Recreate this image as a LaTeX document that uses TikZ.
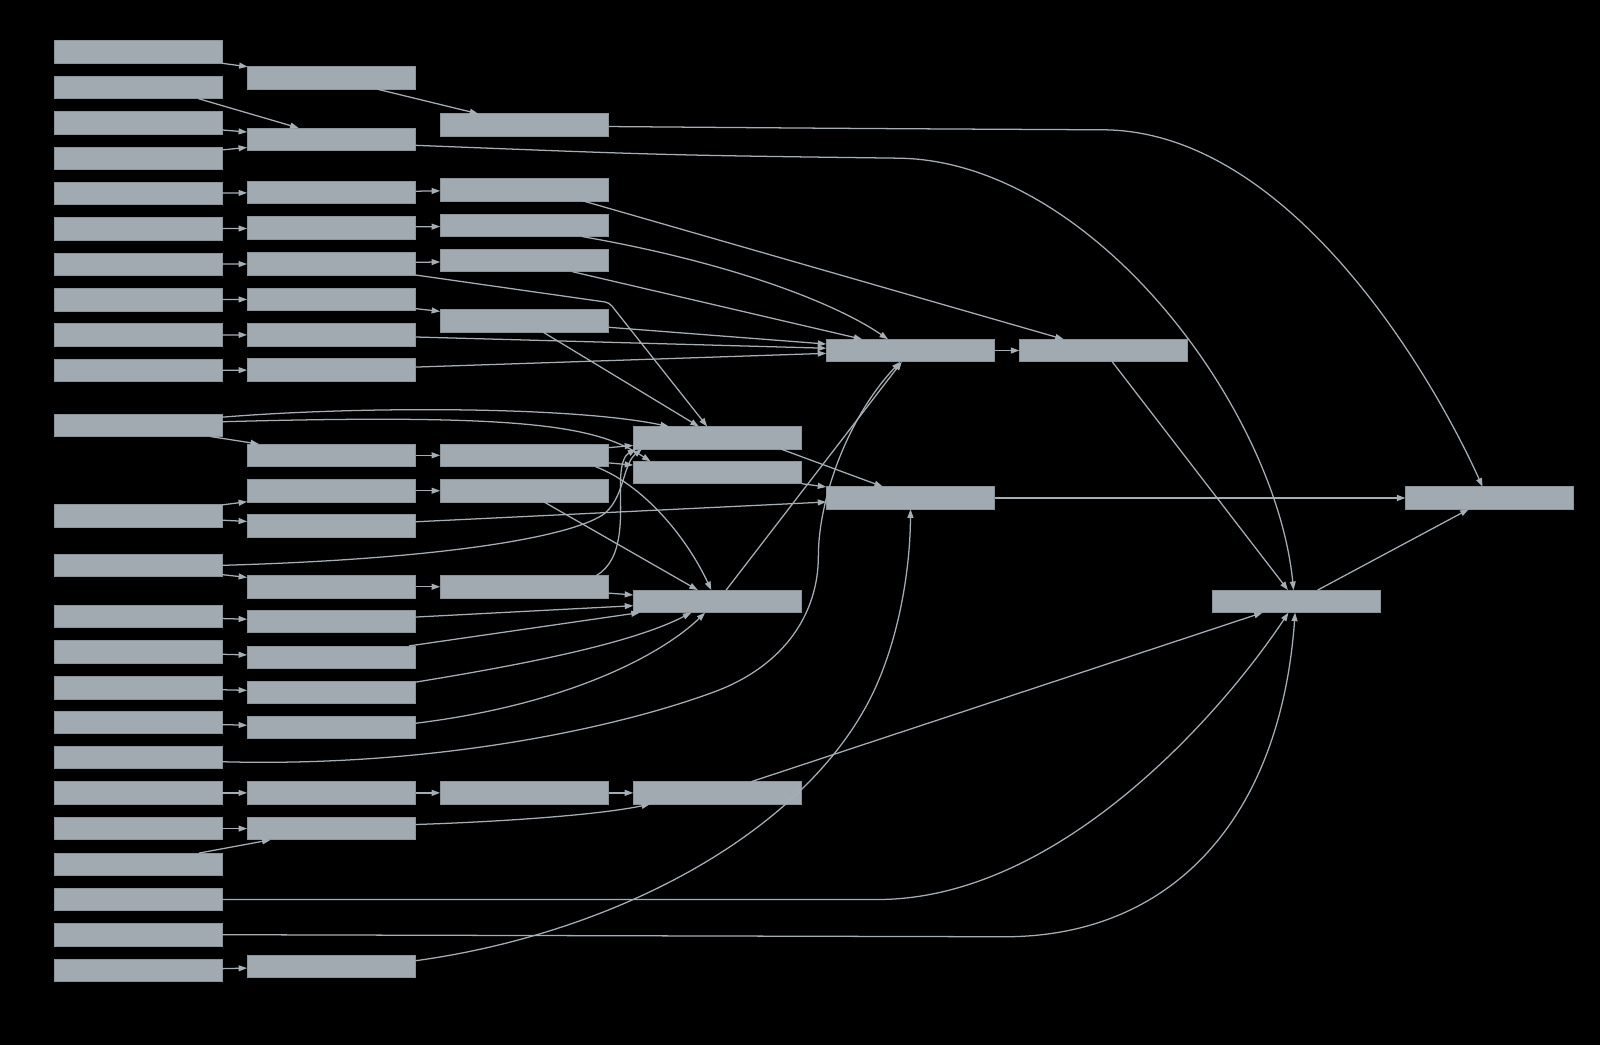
\documentclass[tikz,border=0pt]{standalone}
\usetikzlibrary{arrows.meta,calc}
\definecolor{boxc}{RGB}{161,170,176}
\definecolor{boxb}{RGB}{138,148,154}
\definecolor{linec}{RGB}{165,174,180}
\newcommand\mkbox[3]{\node[box] (#1) at (#2,#3) {};}
\begin{document}
\begin{tikzpicture}[x=0.5pt,y=-0.5pt,
  box/.style={rectangle,fill=boxc,draw=boxb,line width=0.4pt,minimum width=82.5pt,minimum height=11pt,inner sep=0pt,outer sep=0pt},
  edge/.style={draw=linec,line width=0.62pt,-{Triangle[length=4.2pt,width=2.9pt]}}]
\fill[black] (0,0) rectangle (1568,1024.1);
\useasboundingbox (0,0) rectangle (1568,1024.1);
% column 0
\mkbox{a0}{135.5}{51}
\mkbox{a1}{135.5}{85.7}
\mkbox{a2}{135.5}{120.4}
\mkbox{a3}{135.5}{155}
\mkbox{a4}{135.5}{189.7}
\mkbox{a5}{135.5}{224.4}
\mkbox{a6}{135.5}{259}
\mkbox{a7}{135.5}{293.7}
\mkbox{a8}{135.5}{328.4}
\mkbox{a9}{135.5}{363}
\mkbox{a10}{135.5}{416.8}
\mkbox{a11}{135.5}{505.5}
\mkbox{a12}{135.5}{554}
\mkbox{a13}{135.5}{604}
\mkbox{a14}{135.5}{639}
\mkbox{a15}{135.5}{674}
\mkbox{a16}{135.5}{708}
\mkbox{a17}{135.5}{742.5}
\mkbox{a18}{135.5}{777}
\mkbox{a19}{135.5}{812}
\mkbox{a20}{135.5}{847}
\mkbox{a21}{135.5}{881.5}
\mkbox{a22}{135.5}{916}
\mkbox{a23}{135.5}{951}
% column 1
\mkbox{b0}{324.7}{76.4}
\mkbox{b1}{324.7}{136.4}
\mkbox{b2}{324.7}{188.5}
\mkbox{b3}{324.7}{223.5}
\mkbox{b4}{324.7}{258.5}
\mkbox{b5}{324.7}{293.2}
\mkbox{b6}{324.7}{328}
\mkbox{b7}{324.7}{362.5}
\mkbox{b8}{324.7}{446.2}
\mkbox{b9}{324.7}{480.9}
\mkbox{b10}{324.7}{515.3}
\mkbox{b11}{324.7}{575}
\mkbox{b12}{324.7}{609}
\mkbox{b13}{324.7}{644}
\mkbox{b14}{324.7}{678.5}
\mkbox{b15}{324.7}{712.8}
\mkbox{b16}{324.7}{777}
\mkbox{b17}{324.7}{812}
\mkbox{b18}{324.7}{947}
% column 2
\mkbox{c0}{513.9}{122.5}
\mkbox{c1}{513.9}{185.9}
\mkbox{c2}{513.9}{220.8}
\mkbox{c3}{513.9}{255.3}
\mkbox{c4}{513.9}{314.4}
\mkbox{c5}{513.9}{446.2}
\mkbox{c6}{513.9}{480.9}
\mkbox{c7}{513.9}{575}
\mkbox{c8}{513.9}{777}
% column 3
\mkbox{d0}{703.1}{429}
\mkbox{d1}{703.1}{463.2}
\mkbox{d2}{703.1}{589.3}
\mkbox{d3}{703.1}{777}
% columns 4-7
\mkbox{e0}{892.3}{343.5}
\mkbox{e1}{892.3}{488}
\mkbox{f0}{1081.5}{343.5}
\mkbox{g0}{1270.7}{589.3}
\mkbox{h0}{1459.9}{488}
% straight connectors
\foreach \s/\t in {a0/b0,a2/b1,a3/b1,a4/b2,a5/b3,a6/b4,a7/b5,a8/b6,a9/b7,
  a10/b8,a11/b9,a11/b10,a12/b11,a13/b12,a14/b13,a15/b14,a16/b15,a18/b16,
  a19/b17,a20/b17,a23/b18,
  b0/c0,b2/c1,b3/c2,b4/c3,b5/c4,b6/e0,b7/e0,b8/c5,b9/c6,b10/e1,b11/c7,
  b12/d2,b13/d2,b16/c8,
  c3/e0,c4/e0,c4/d0,c5/d0,c5/d1,c6/d2,c7/d2,c8/d3,
  d1/e1,d2/e0,d3/g0,
  e0/f0,e1/h0,f0/g0,g0/h0}
  \draw[edge] (\s) -- (\t);
\draw[edge] ($(a1.south)+(59,0)$) -- ($(b1.north)+(-32,0)$);
\draw[edge] ($(c1.south east)+(-25,0)$) -- ($(f0.north)+(-39,0)$);
\draw[edge] ($(d0.south)+(62,0)$) -- ($(e1.north)+(-27,0)$);
% curved connectors
\draw[edge] ($(c2.south east)+(-26,0)$) .. controls (720,258) and (820,298) .. ($(e0.north)+(-22,0)$);
\draw[edge,rounded corners=2pt] (b4.south east) -- (597,296.5) -- ($(d0.north)+(-10,0)$);
\draw[edge] ($(a10.east)+(0,-8)$) .. controls (350,398) and (560,398) .. ($(d0.north west)+(35,0)$);
\draw[edge] ($(a10.east)+(0,-3.5)$) .. controls (520,405) and (585,418) .. ($(d1.north west)+(17,0)$);
\draw[edge] (a12.east) .. controls (430,548) and (555,527) .. (590,505) .. controls (612,490) and (610,455) .. ($(d0.south west)+(8.5,0)$);
\draw[edge] ($(c7.north east)+(-12,0)$) .. controls (612,548) and (608,505) .. (608,477) .. controls (608,456) and (611,447) .. ($(d0.south west)+(3,0)$);
\draw[edge] ($(c5.south east)+(-13,0)$) .. controls (630,475) and (672,525) .. ($(d2.north)+(-6,0)$);
\draw[edge] ($(c0.east)+(0,1.5)$) .. controls (850,126) .. (1080,127.2) .. controls (1260,127.2) and (1400,360) .. ($(h0.north)+(-7,0)$);
\draw[edge] ($(b1.east)+(0,6)$) .. controls (650,152) .. (880,155) .. controls (1070,157) and (1250,400) .. ($(g0.north)+(-3,0)$);
\draw[edge] ($(a17.east)+(0,4)$) .. controls (420,752) and (600,715) .. (700,678) .. controls (770,652) and (802,600) .. (802,545) .. controls (802,490) and (830,410) .. ($(e0.south)+(-10,0)$);
\draw[edge] ($(b14.north east)+(0,1)$) .. controls (520,650) and (620,630) .. ($(d2.south west)+(57,0)$);
\draw[edge] ($(b15.north east)+(0,7)$) .. controls (560,690) and (650,640) .. ($(d2.south west)+(70.5,0)$);
\draw[edge] ($(b17.east)+(0,-4)$) .. controls (500,805) and (590,798) .. ($(d3.south west)+(16.5,0)$);
\draw[edge] (a21.east) -- (860,881.5) .. controls (1040,881.5) and (1200,695) .. ($(g0.south)+(-8,0)$);
\draw[edge] (a22.east) -- (980,918) .. controls (1150,920) and (1255,800) .. ($(g0.south)+(-1.5,0)$);
\draw[edge] ($(b18.east)+(0,-5.5)$) .. controls (600,915) and (780,820) .. (850,690) .. controls (880,634) and (892,560) .. (e1.south);
\end{tikzpicture}
\end{document}
